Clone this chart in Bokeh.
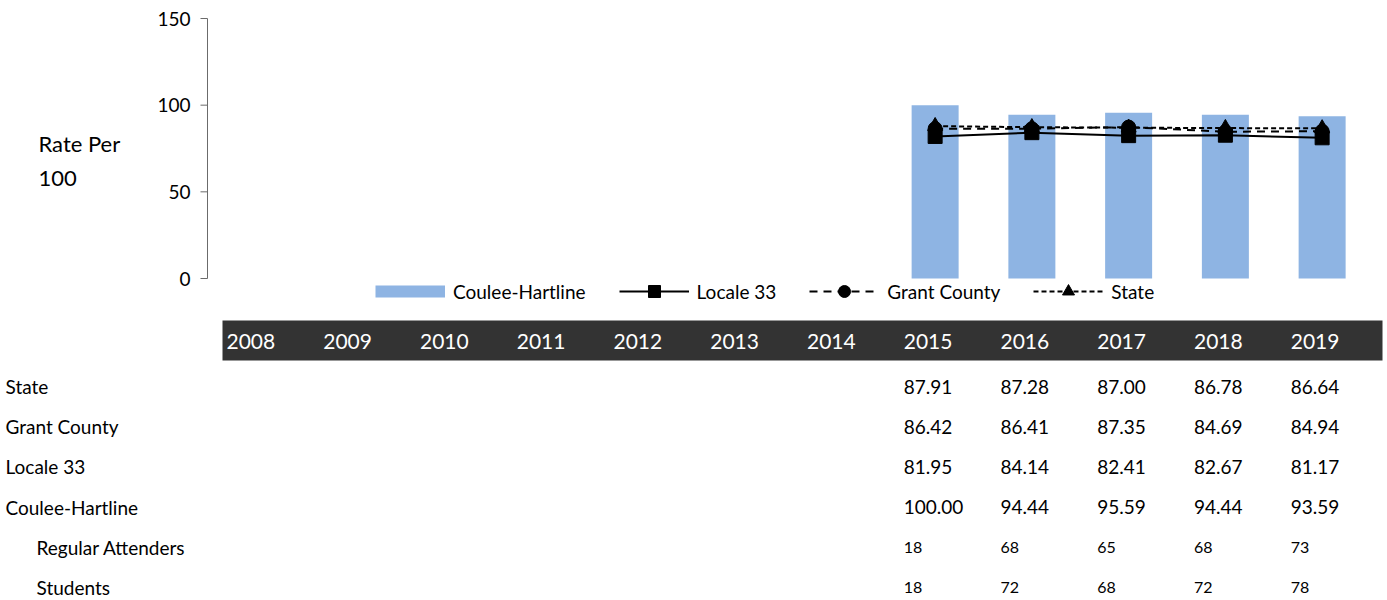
from bokeh.plotting import figure
from bokeh.models import Range1d, Legend, LegendItem, ColumnDataSource
from bokeh.embed import file_html
from bokeh.resources import INLINE
from bokeh.core.properties import value

# ---------------- data ----------------
all_years = [2008, 2009, 2010, 2011, 2012, 2013, 2014, 2015, 2016, 2017, 2018, 2019]
data_years = [2015, 2016, 2017, 2018, 2019]
state = [87.91, 87.28, 87.00, 86.78, 86.64]
grant_county = [86.42, 86.41, 87.35, 84.69, 84.94]
locale_33 = [81.95, 84.14, 82.41, 82.67, 81.17]
coulee_hartline = [100.00, 94.44, 95.59, 94.44, 93.59]
regular_attenders = [18, 68, 65, 68, 73]
students = [18, 72, 68, 72, 78]
y_ticks = [0, 50, 100, 150]
y_label = "Rate Per\n100"
row_labels = ["State", "Grant County", "Locale 33", "Coulee-Hartline",
              "Regular Attenders", "Students"]
row_indent = [0, 0, 0, 0, 1, 1]

# ---------------- layout (page pixels) ----------------
FONT = "Lato"
BAR = "#8EB4E3"
AXIS_COLOR = "#6b6b6b"
W, H = 1387, 600
AX_X = 207              # y axis position
BAND_RIGHT = 1382       # right edge of table header band
TOP_Y = 18              # value 150
ZERO_Y = 278            # value 0
unit = 96.75            # px per year
px_per_val = (ZERO_Y - TOP_Y) / 150.0
ROW0 = 386              # first table row centre
STEP = 40.2

x_axis = all_years[0] - 0.5 - 2 / unit
x_start = x_axis - AX_X / unit
x_end = x_start + W / unit

p = figure(width=W, height=H, output_backend="svg", toolbar_location=None,
           x_range=Range1d(x_start, x_end),
           y_range=Range1d((ZERO_Y - H) / px_per_val, ZERO_Y / px_per_val),
           x_axis_location=None, y_axis_location=None, min_border=0)
p.outline_line_color = None
p.grid.visible = False
p.background_fill_color = "white"
p.border_fill_color = "white"
p.extra_y_ranges = {"table": Range1d((H - ROW0) / STEP, -ROW0 / STEP)}

# ---------------- value axis ----------------
p.segment(x0=[x_axis], y0=[y_ticks[0]], x1=[x_axis], y1=[y_ticks[-1]],
          line_color=AXIS_COLOR, line_width=1)
p.segment(x0=[x_axis - 7 / unit] * len(y_ticks), y0=y_ticks,
          x1=[x_axis] * len(y_ticks), y1=y_ticks, line_color=AXIS_COLOR, line_width=1)
p.text(x=[x_axis] * len(y_ticks), y=y_ticks, text=[str(t) for t in y_ticks],
       x_offset=-17, text_align="right", text_baseline="middle",
       text_color="black", text_font=value(FONT), text_font_size="19px")
p.text(x=[x_axis], y=[(ZERO_Y - 129) / px_per_val], text=[y_label],
       x_offset=38 - AX_X, text_align="left", text_baseline="top",
       text_line_height=1.29, text_color="black", text_font=value(FONT),
       text_font_size="22px")

# ---------------- chart ----------------
src = ColumnDataSource(dict(x=data_years, coulee=coulee_hartline, locale=locale_33,
                            grant=grant_county, state=state))
p.vbar(x="x", top="coulee", bottom=0, width=47 / unit, source=src,
       fill_color=BAR, line_color=None)

l_loc = p.line("x", "locale", source=src, line_color="black", line_width=2)
s_loc = p.scatter("x", "locale", source=src, marker="square", size=14,
                  fill_color="black", line_color="black")
l_gr = p.line("x", "grant", source=src, line_color="black", line_width=2,
              line_dash="8 6")
s_gr = p.scatter("x", "grant", source=src, marker="circle", size=14,
                 fill_color="black", line_color="black")
l_st = p.line("x", "state", source=src, line_color="black", line_width=2,
              line_dash="5 3")
s_st = p.scatter("x", "state", source=src, marker="triangle", size=15,
                 fill_color="black", line_color="black")

# swatch for the bar series in the legend (no visible data)
bar_proxy = p.line(x=[float("nan")], y=[float("nan")], line_color=BAR, line_width=12)

legend = Legend(items=[
    LegendItem(label="Coulee-Hartline", renderers=[bar_proxy]),
    LegendItem(label="Locale 33", renderers=[l_loc, s_loc]),
    LegendItem(label="Grant County", renderers=[l_gr, s_gr]),
    LegendItem(label="State", renderers=[l_st, s_st]),
], orientation="horizontal", location=(375, H - 306),
    glyph_width=70, glyph_height=30, label_standoff=8, spacing=33,
    padding=0, margin=0, border_line_color=None, background_fill_alpha=0,
    label_text_font=FONT, label_text_font_size="19px", label_text_color="black")
p.add_layout(legend, "center")

# ---------------- table ----------------
band_top = (320 - ROW0) / STEP
band_bot = (360 - ROW0) / STEP
p.quad(left=[x_axis + 15 / unit], right=[x_axis + (BAND_RIGHT - AX_X) / unit],
       top=[band_top], bottom=[band_bot],
       fill_color="#333333", line_color=None, y_range_name="table")

CELL_DX = -unit / 2 + 17
p.text(x=all_years, y=[(band_top + band_bot) / 2 + 0.03] * len(all_years),
       text=[str(y) for y in all_years], x_offset=CELL_DX, y_range_name="table",
       text_align="left", text_baseline="middle", text_color="white",
       text_font=value(FONT), text_font_size="21px")

cx, cy, ct = [], [], []
for i, r in enumerate([state, grant_county, locale_33, coulee_hartline]):
    for yr, v in zip(data_years, r):
        cx.append(yr); cy.append(i); ct.append(f"{v:.2f}")
p.text(x=cx, y=cy, text=ct, x_offset=CELL_DX, y_range_name="table",
       text_align="left", text_baseline="middle", text_color="black",
       text_font=value(FONT), text_font_size="19px")

sx, sy, st = [], [], []
for i, r in enumerate([regular_attenders, students]):
    for yr, v in zip(data_years, r):
        sx.append(yr); sy.append(i + 4); st.append(str(v))
p.text(x=sx, y=sy, text=st, x_offset=CELL_DX, y_range_name="table",
       text_align="left", text_baseline="middle", text_color="black",
       text_font=value(FONT), text_font_size="16px")

lab = ColumnDataSource(dict(x=[x_start] * len(row_labels),
                            y=list(range(len(row_labels))), t=row_labels,
                            dx=[5 + 31 * k for k in row_indent]))
p.text(x="x", y="y", text="t", x_offset="dx", source=lab, y_range_name="table",
       text_align="left", text_baseline="middle", text_color="black",
       text_font=value(FONT), text_font_size="19px")

open("out.html", "w").write(file_html(p, INLINE))
